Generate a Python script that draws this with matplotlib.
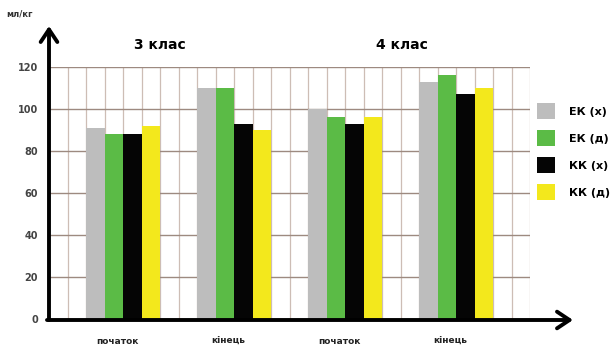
import numpy as np
import matplotlib
matplotlib.use("Agg")
import matplotlib.pyplot as plt
from matplotlib.patches import Patch

plt.rcParams["font.family"] = ["DejaVu Sans"]

# дані: 4 колонки на кожну групу (клас x момент виміру)
groups = ["3 клас", "4 клас"]
moments = ["початок", "кінець", "початок", "кінець"]
series = ["ЕК (х)", "ЕК (д)", "КК (х)", "КК (д)"]
ek_x = [91, 110, 100, 113]
ek_d = [88, 110, 96, 116]
kk_x = [88, 93, 93, 107]
kk_d = [92, 90, 96, 110]
colors = ["#bdbdbd", "#5bbb46", "#050505", "#f3e81c"]

fig = plt.figure(figsize=(6.15, 3.53), dpi=100)
ax = fig.add_axes([49 / 615, 1 - 319 / 353, 481 / 615, 252 / 353])

# сітка: 26 стовпчиків по ширині, лінії через 20
ax.set_xlim(0, 26)
ax.set_ylim(0, 120)
for xv in range(1, 27):
    ax.axvline(xv, color="#cdbdb5", lw=0.9, zorder=0)
for yv in range(20, 121, 20):
    ax.axhline(yv, color="#9d8a80", lw=1.0, zorder=0)

starts = np.array([2, 8, 14, 20])
vals = [ek_x, ek_d, kk_x, kk_d]
for j, (v, c) in enumerate(zip(vals, colors)):
    ax.bar(starts + j + 0.5, v, width=1.0, color=c, zorder=2, linewidth=0)

for s in ax.spines.values():
    s.set_visible(False)
ax.set_yticks(range(0, 121, 20))
ax.set_yticklabels([str(t) for t in range(0, 121, 20)], fontsize=7,
                   fontweight="bold", color="#444444")
ax.tick_params(axis="y", length=0, pad=8)
ax.set_xticks(starts + 1.7)
ax.set_xticklabels(moments, fontsize=6.5, fontweight="bold", color="#222222")
ax.tick_params(axis="x", length=0, pad=13)

# осі зі стрілками
arrow = dict(arrowstyle="->,head_length=0.9,head_width=0.6", lw=2.8,
             color="black", shrinkA=0, shrinkB=0)
ax.annotate("", xy=(49, 353 - 26), xytext=(49, 353 - 320),
            xycoords="figure pixels", textcoords="figure pixels",
            arrowprops=arrow, annotation_clip=False)
ax.annotate("", xy=(573, 353 - 320), xytext=(47, 353 - 320),
            xycoords="figure pixels", textcoords="figure pixels",
            arrowprops=arrow, annotation_clip=False)

fig.text(6 / 615, 1 - 14 / 353, "мл/кг", fontsize=6, fontweight="bold",
         color="#333333", va="center")
fig.text(160 / 615, 1 - 45 / 353, groups[0], fontsize=10, fontweight="bold",
         ha="center", va="center")
fig.text(402 / 615, 1 - 45 / 353, groups[1], fontsize=10, fontweight="bold",
         ha="center", va="center")

handles = [Patch(facecolor=c, edgecolor="none") for c in colors]
fig.legend(handles, series, loc="upper left", bbox_to_anchor=(527 / 615, 1 - 93 / 353),
           frameon=False, handlelength=1.6, handleheight=1.9,
           labelspacing=0.95, handletextpad=1.3, prop={"weight": "bold", "size": 8})

fig.savefig("out.png", dpi=100)
